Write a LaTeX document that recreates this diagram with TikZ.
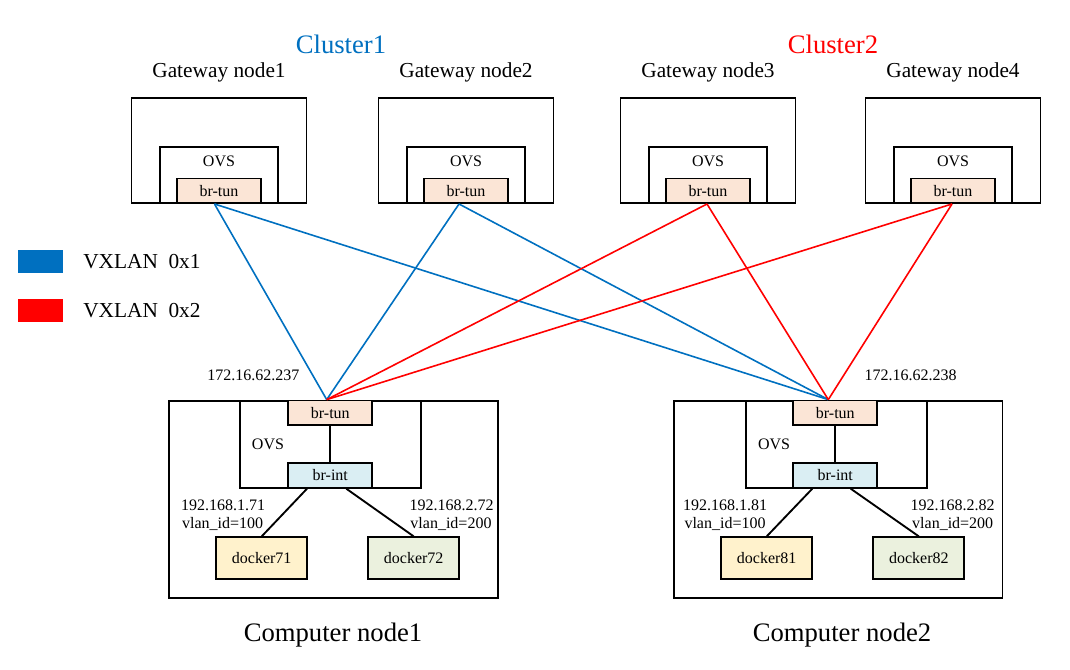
\documentclass[tikz,border=0pt]{standalone}
\usepackage{fontspec}
\setmainfont{Liberation Serif}
\usetikzlibrary{calc}
\definecolor{vxblue}{HTML}{0070C0}
\definecolor{vxred}{HTML}{FF0000}
\definecolor{tunfill}{HTML}{FBE5D6}
\definecolor{intfill}{HTML}{DAEEF3}
\definecolor{dockA}{HTML}{FFF2CC}
\definecolor{dockB}{HTML}{EBF1DE}
\tikzset{
  box/.style={draw, line width=1.4pt, inner sep=0pt},
  small/.style={font=\fontsize{12pt}{14pt}\selectfont, inner sep=0pt},
  mid/.style={font=\fontsize{16pt}{19pt}\selectfont, inner sep=0pt},
  big/.style={font=\fontsize{20pt}{24pt}\selectfont, inner sep=0pt},
  gwouter/.style={box, minimum width=175*0.75pt, minimum height=105*0.75pt},
  gwovs/.style={box, minimum width=118*0.75pt, minimum height=56*0.75pt},
  brtun/.style={box, fill=tunfill, minimum width=84*0.75pt, minimum height=24.5*0.75pt, small},
  brint/.style={box, fill=intfill, minimum width=84*0.75pt, minimum height=24.5*0.75pt, small},
  cnouter/.style={box, minimum width=328.5*0.75pt, minimum height=197.6*0.75pt},
  cnovs/.style={box, minimum width=181*0.75pt, minimum height=87*0.75pt},
  dockbox/.style={box, minimum width=91*0.75pt, minimum height=42*0.75pt, small},
  bluelink/.style={draw=vxblue, line width=1.2pt},
  redlink/.style={draw=vxred, line width=1.2pt},
  blink/.style={draw=black, line width=1.4pt},
}
\begin{document}
\begin{tikzpicture}[x=0.75pt, y=-0.75pt]
\useasboundingbox (0,0) rectangle (1070,669);

% Titles
\node[big, text=vxblue] (cl1) at (341,44) {Cluster1};
\node[big, text=vxred] (cl2) at (833,44) {Cluster2};

% Gateway nodes
\foreach \i/\gx in {1/219, 2/466, 3/708, 4/953} {
  \node[mid] (gl\i) at (\gx,72) {Gateway node\i};
  \node[gwouter] (go\i) at (\gx,150.8) {};
  \node[gwovs] (gv\i) at (\gx,175.3) {};
  \node[small] (gvl\i) at (\gx,161) {OVS};
  \node[brtun] (gt\i) at (\gx,190.8) {br-tun};
}

% Legend
\node[fill=vxblue, minimum width=45*0.75pt, minimum height=23*0.75pt, inner sep=0pt] (lb) at (40.5,261.5) {};
\node[fill=vxred, minimum width=45*0.75pt, minimum height=23*0.75pt, inner sep=0pt] (lr) at (40.5,310.5) {};
\node[mid, anchor=west] (lbt) at (83,262) {VXLAN\ \ 0x1};
\node[mid, anchor=west] (lrt) at (83,311) {VXLAN\ \ 0x2};

% Computer node 1
\node[cnouter] (co1) at (333.5,499.5) {};
\node[cnovs] (cv1) at (330.5,444.2) {};
\node[small] (cvl1) at (268,444) {OVS};
\node[brtun] (ct1) at (330.3,412.8) {br-tun};
\node[brint] (ci1) at (330.3,475.5) {br-int};
\node[dockbox, fill=dockA] (d71) at (261.7,558.3) {docker71};
\node[dockbox, fill=dockB] (d72) at (413.7,558.3) {docker72};
\node[small] (ip71) at (223,505.7) {192.168.1.71};
\node[small] (vl71) at (222.7,524.3) {vlan\_id=100};
\node[small] (ip72) at (451.7,505.7) {192.168.2.72};
\node[small] (vl72) at (451,524.3) {vlan\_id=200};
\node[small] (ipc1) at (253.3,375) {172.16.62.237};
\node[big] (cn1) at (333,635) {Computer node1};

% Computer node 2
\node[cnouter] (co2) at (838.3,499.5) {};
\node[cnovs] (cv2) at (836.3,444.2) {};
\node[small] (cvl2) at (774,444) {OVS};
\node[brtun] (ct2) at (835.3,412.8) {br-tun};
\node[brint] (ci2) at (835.3,475.5) {br-int};
\node[dockbox, fill=dockA] (d81) at (766.7,558.3) {docker81};
\node[dockbox, fill=dockB] (d82) at (918.8,558.3) {docker82};
\node[small] (ip81) at (725,505.7) {192.168.1.81};
\node[small] (vl81) at (725,524.3) {vlan\_id=100};
\node[small] (ip82) at (952.7,505.7) {192.168.2.82};
\node[small] (vl82) at (952.7,524.3) {vlan\_id=200};
\node[small] (ipc2) at (910.7,375) {172.16.62.238};
\node[big] (cn2) at (842,635) {Computer node2};

% Link end points
\coordinate (p1) at ($(gt1.south)+(-4.5,0)$);
\coordinate (p2) at ($(gt2.south)+(-7,0)$);
\coordinate (p3) at ($(gt3.south)+(-1,0)$);
\coordinate (p4) at ($(gt4.south)+(-1,0)$);
\coordinate (q1) at ($(ct1.north)+(-3.6,0)$);
\coordinate (q2) at ($(ct2.north)+(-7,0)$);

% VXLAN links
\draw[bluelink] (p1) -- (q1);
\draw[bluelink] (p1) -- (q2);
\draw[bluelink] (p2) -- (q1);
\draw[bluelink] (p2) -- (q2);
\draw[redlink] (p3) -- (q1);
\draw[redlink] (p3) -- (q2);
\draw[redlink] (p4) -- (q1);
\draw[redlink] (p4) -- (q2);

% Internal links
\draw[blink] (ct1.south) -- (ci1.north);
\draw[blink] ($(ci1.south)+(-23.3,0)$) -- (d71.north);
\draw[blink] ($(ci1.south)+(16,0)$) -- (d72.north);
\draw[blink] (ct2.south) -- (ci2.north);
\draw[blink] ($(ci2.south)+(-23,0)$) -- (d81.north);
\draw[blink] ($(ci2.south)+(15.4,0)$) -- (d82.north);
\end{tikzpicture}
\end{document}
